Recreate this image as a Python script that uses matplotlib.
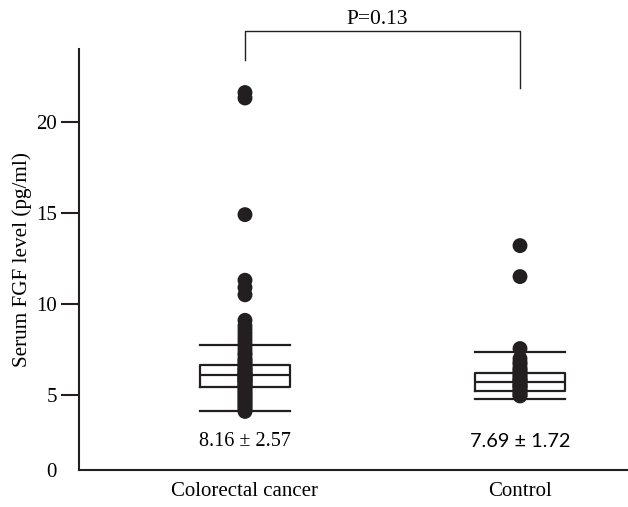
import matplotlib
matplotlib.use('Agg')
import matplotlib.pyplot as plt

# fonts: Times-like serif for most text
plt.rcParams['font.family'] = ['Liberation Serif', 'DejaVu Serif']

# data
groups = ['Colorectal cancer', 'Control']
crc_values = [21.6, 21.3, 14.9, 11.3, 10.9, 10.5,
              9.1, 8.8, 8.6, 8.4, 8.2, 8.0, 7.8, 7.7, 7.5, 7.3, 7.2, 7.0,
              6.9, 6.8, 6.7, 6.6, 6.5, 6.4, 6.4, 6.3, 6.2, 6.2, 6.1, 6.1,
              6.0, 6.0, 5.9, 5.9, 5.8, 5.8, 5.7, 5.7, 5.6, 5.5, 5.5, 5.4,
              5.3, 5.2, 5.1, 5.0, 4.9, 4.8, 4.7, 4.6, 4.5, 4.4, 4.3, 4.2, 4.1]
ctrl_values = [13.2, 11.5, 7.55, 7.0, 6.8, 6.7, 6.5, 6.4, 6.3, 6.2, 6.1,
               6.0, 5.9, 5.8, 5.8, 5.7, 5.6, 5.5, 5.5, 5.4, 5.3, 5.2, 5.1,
               5.0, 4.95]

# box statistics (whisker low, q1, median, q3, whisker high)
whis_lo = [4.1, 4.77]
q1 = [5.45, 5.2]
median = [6.1, 5.7]
q3 = [6.65, 6.2]
whis_hi = [7.75, 7.35]

mean_sd = ['8.16 \u00b1 2.57', '7.69 \u00b1 1.72']
p_text = 'P=0.13'

y_ticks = [5, 10, 15, 20]

fig = plt.figure(figsize=(6.28, 5.07), dpi=100)
ax = fig.add_axes([0.1258, 0.073, 0.8742, 0.830])

positions = [0, 1]
box_w = 0.327

# boxes with caps as wide as the box
stats = []
for i in range(len(groups)):
    stats.append({'whislo': whis_lo[i], 'q1': q1[i], 'med': median[i],
                  'q3': q3[i], 'whishi': whis_hi[i], 'fliers': []})
line_kw = dict(color='#231f20', linewidth=1.6)
ax.bxp(stats, positions=positions, widths=box_w, capwidths=box_w,
       showfliers=False, boxprops=line_kw, whiskerprops=line_kw,
       capprops=line_kw, medianprops=line_kw, manage_ticks=False)

# dot columns
for pos, vals in zip(positions, [crc_values, ctrl_values]):
    ax.scatter([pos] * len(vals), vals, s=115, color='#231f20',
               edgecolors='none', zorder=3)

# mean +/- sd labels
ax.text(positions[0], 2.47, mean_sd[0], ha='center', va='center',
        fontsize=14.5)
ax.text(positions[1], 2.47, mean_sd[1], ha='center', va='center',
        fontsize=14.3, family=['Lato', 'DejaVu Sans'])

# significance bracket above the plot
ax.plot([positions[0], positions[0], positions[1], positions[1]],
        [23.37, 24.96, 24.96, 21.84], color='#231f20', linewidth=1.0,
        clip_on=False)
ax.text(0.48, 25.1, p_text, ha='center', va='bottom', fontsize=15.5)

# axes
ylim_low = 0.886
ax.set_xlim(-0.6036, 1.3927)
ax.set_ylim(ylim_low, 23.98)
ax.set_xticks(positions)
ax.set_xticklabels(groups, fontsize=15)
ax.set_yticks([ylim_low] + y_ticks)
ax.set_yticklabels(['0'] + [str(t) for t in y_ticks], fontsize=15)
ax.yaxis.get_major_ticks()[0].tick1line.set_visible(False)
ax.tick_params(axis='x', length=0, pad=9)
ax.tick_params(axis='y', length=13, width=1.5, pad=3, color='#231f20')
ax.set_ylabel('Serum FGF level (pg/ml)', fontsize=15.2, labelpad=3)

for side in ['top', 'right']:
    ax.spines[side].set_visible(False)
for side in ['left', 'bottom']:
    ax.spines[side].set_linewidth(1.5)
    ax.spines[side].set_color('#231f20')

fig.savefig('out.png', dpi=100)
